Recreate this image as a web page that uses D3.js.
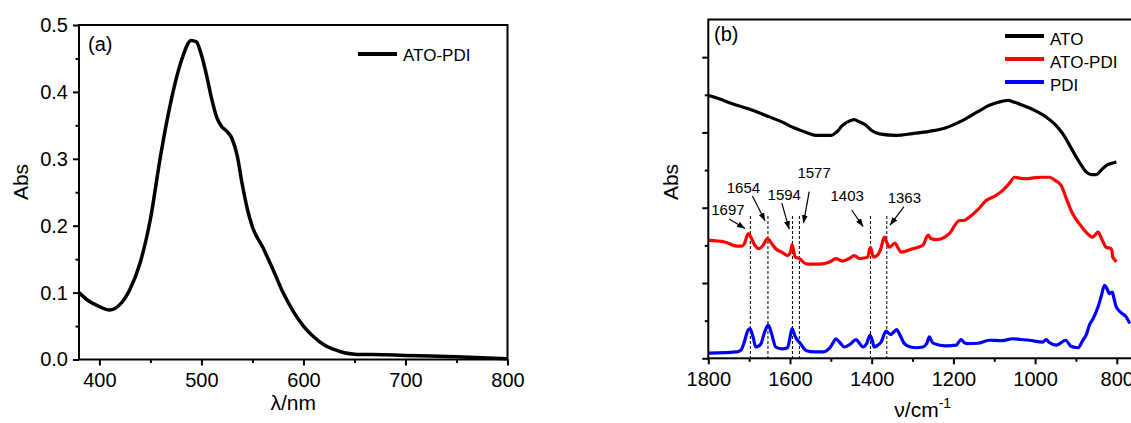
<!DOCTYPE html>
<html lang="en">
<head>
    <meta charset="UTF-8">
    <title>UV-vis and FTIR</title>
    <script type="text/javascript" src="https://d3js.org/d3.v7.min.js"></script>
    <style>
        body { margin: 0; background: #fff; }
        svg { display: block; font-family: Arial, "Liberation Sans", sans-serif; }
    </style>
</head>
<body>
<svg width="1131" height="423"></svg>

<script>
    // (a) UV-vis, ATO-PDI
    var wavelength = [380, 390, 400, 410, 420, 430, 440, 450, 460, 470, 480, 490, 495, 500, 505, 510, 515, 520,
        525, 530, 535, 540, 545, 550, 560, 570, 580, 590, 600, 610, 620, 630, 640, 650, 680, 700, 750, 800];
    var absAtoPdi = [0.100, 0.087, 0.079, 0.074, 0.082, 0.105, 0.145, 0.210, 0.305, 0.385, 0.445, 0.477, 0.475,
        0.455, 0.425, 0.390, 0.362, 0.348, 0.341, 0.330, 0.305, 0.262, 0.225, 0.198, 0.168, 0.135, 0.100, 0.072,
        0.050, 0.034, 0.022, 0.015, 0.010, 0.008, 0.007, 0.006, 0.004, 0.001];

    // (b) FTIR, arbitrary units
    var wnAto = [1800, 1770, 1741, 1700, 1659, 1620, 1594, 1560, 1537, 1500, 1485, 1471, 1455, 1443, 1430, 1414,
        1400, 1381, 1340, 1300, 1259, 1220, 1177, 1140, 1112, 1090, 1067, 1050, 1030, 1000, 973, 950, 932, 915,
        899, 885, 875, 862, 850, 838, 826, 812, 801];
    var ato = [6.98, 6.88, 6.76, 6.62, 6.45, 6.28, 6.14, 6.00, 5.92, 5.92, 6.02, 6.19, 6.30, 6.34, 6.28, 6.19,
        6.05, 5.96, 5.92, 5.97, 6.03, 6.12, 6.32, 6.55, 6.72, 6.80, 6.85, 6.80, 6.72, 6.58, 6.41, 6.20, 5.96, 5.65,
        5.34, 5.10, 4.95, 4.88, 4.88, 5.00, 5.12, 5.18, 5.21];

    var wnAtoPdi = [1800, 1760, 1730, 1718, 1712, 1702, 1695, 1688, 1676, 1665, 1655, 1645, 1635, 1620, 1606,
        1598, 1595, 1591, 1587, 1577, 1561, 1540, 1520, 1505, 1496, 1488, 1480, 1471, 1455, 1443, 1430, 1415,
        1410, 1403, 1396, 1385, 1378, 1369, 1362, 1357, 1343, 1335, 1328, 1300, 1275, 1262, 1255, 1242, 1210,
        1185, 1175, 1161, 1140, 1120, 1100, 1079, 1065, 1050, 1035, 1022, 1000, 985, 965, 950, 936, 922, 908,
        890, 875, 859, 846, 836, 826, 815, 812, 810, 805, 801];
    var atoPdi = [3.13, 3.09, 2.98, 2.98, 3.04, 3.31, 3.20, 3.04, 2.91, 3.02, 3.18, 3.05, 2.91, 2.82, 2.73,
        2.85, 3.02, 2.85, 2.69, 2.65, 2.51, 2.50, 2.51, 2.55, 2.60, 2.65, 2.62, 2.58, 2.65, 2.73, 2.65, 2.67,
        2.69, 2.95, 2.69, 2.75, 2.90, 3.22, 3.05, 2.95, 3.06, 2.92, 2.82, 2.91, 3.00, 3.27, 3.18, 3.15, 3.31,
        3.66, 3.66, 3.75, 3.95, 4.19, 4.30, 4.46, 4.62, 4.81, 4.78, 4.77, 4.80, 4.81, 4.81, 4.72, 4.59, 4.20, 3.84,
        3.55, 3.35, 3.22, 3.35, 3.15, 2.95, 2.92, 2.87, 2.69, 2.62, 2.56];

    var wnPdi = [1800, 1760, 1730, 1720, 1712, 1704, 1698, 1690, 1684, 1676, 1671, 1662, 1653, 1645, 1635, 1620,
        1606, 1600, 1595, 1588, 1583, 1575, 1561, 1540, 1520, 1504, 1495, 1488, 1478, 1467, 1452, 1438, 1430,
        1421, 1412, 1404, 1398, 1394, 1385, 1377, 1365, 1358, 1353, 1346, 1339, 1330, 1320, 1305, 1291, 1275,
        1265, 1259, 1253, 1247, 1220, 1193, 1181, 1174, 1167, 1140, 1112, 1080, 1055, 1035, 1014, 981, 973, 965,
        948, 925, 912, 895, 883, 875, 867, 858, 846, 838, 830, 824, 818, 811, 806, 801, 790, 777, 768];
    var pdi = [0.14, 0.15, 0.17, 0.22, 0.43, 0.72, 0.79, 0.55, 0.30, 0.33, 0.39, 0.70, 0.88, 0.65, 0.30, 0.25,
        0.28, 0.55, 0.79, 0.60, 0.50, 0.40, 0.21, 0.17, 0.17, 0.26, 0.40, 0.52, 0.42, 0.30, 0.38, 0.50, 0.40,
        0.30, 0.40, 0.61, 0.45, 0.30, 0.35, 0.43, 0.72, 0.66, 0.63, 0.70, 0.76, 0.60, 0.39, 0.30, 0.28, 0.30,
        0.40, 0.57, 0.45, 0.39, 0.33, 0.35, 0.50, 0.42, 0.39, 0.40, 0.48, 0.47, 0.52, 0.50, 0.48, 0.43, 0.50, 0.42,
        0.35, 0.48, 0.32, 0.28, 0.48, 0.62, 0.88, 1.05, 1.36, 1.65, 1.94, 1.85, 1.72, 1.76, 1.55, 1.36, 1.22,
        1.10, 0.92];

    // marked peaks
    var peakWn = [1697, 1654, 1594, 1577, 1403, 1363];
    var peakText = ['1697', '1654', '1594', '1577', '1403', '1363'];

    // where each peak label and its arrow sit (wavenumber, height)
    var labelAt = [[1752, 3.81], [1714, 4.40], [1614, 4.21], [1541, 4.78], [1460, 4.19], [1320, 4.12]];
    var arrowFrom = [[1749, 3.70], [1692, 4.31], [1620, 4.12], [1553, 4.43], [1449, 3.94], [1321, 4.03]];
    var arrowTo = [[1710, 3.45], [1661, 3.65], [1602, 3.43], [1567, 3.59], [1421, 3.50], [1355, 3.54]];
    var dashTop = 3.78;

    var svg = d3.select('svg');

    svg.append('defs').append('marker')
        .attr('id', 'head')
        .attr('markerUnits', 'userSpaceOnUse')
        .attr('markerWidth', 8).attr('markerHeight', 6)
        .attr('refX', 8).attr('refY', 3)
        .attr('orient', 'auto')
        .append('path')
        .attr('d', 'M0,0L8,3L0,6Z')
        .attr('fill', '#000');

    function styleAxis(g, fontSize) {
        g.select('.domain').remove();
        g.selectAll('line').attr('stroke', '#000').attr('stroke-width', 2);
        g.selectAll('text').attr('fill', '#000').attr('font-size', fontSize)
            .attr('font-family', 'Arial, "Liberation Sans", sans-serif');
    }

    // ---------- (a) ----------
    var xA = d3.scaleLinear().domain([380, 800]).range([79, 507.5]);
    var yA = d3.scaleLinear().domain([0, 0.5]).range([359.5, 25]);

    var ga = svg.append('g');

    ga.append('g').attr('transform', 'translate(0,' + yA(0) + ')')
        .call(d3.axisBottom(xA).tickValues([400, 500, 600, 700, 800]).tickSize(6).tickPadding(7)
            .tickFormat(d3.format('d')))
        .call(styleAxis, 20);
    ga.append('g').attr('transform', 'translate(0,' + yA(0) + ')')
        .call(d3.axisBottom(xA).tickValues([450, 550, 650, 750]).tickSize(3.5).tickFormat(''))
        .call(styleAxis, 20);
    ga.append('g').attr('transform', 'translate(' + xA(380) + ',0)')
        .call(d3.axisLeft(yA).tickValues([0, 0.1, 0.2, 0.3, 0.4, 0.5]).tickSize(6).tickPadding(5)
            .tickFormat(d3.format('.1f')))
        .call(styleAxis, 20);
    ga.append('g').attr('transform', 'translate(' + xA(380) + ',0)')
        .call(d3.axisLeft(yA).tickValues([0.05, 0.15, 0.25, 0.35, 0.45]).tickSize(3.5).tickFormat(''))
        .call(styleAxis, 20);

    var lineA = d3.line()
        .x(function (d, i) { return xA(wavelength[i]); })
        .y(function (d) { return yA(d); })
        .curve(d3.curveMonotoneX);

    ga.append('path')
        .attr('d', lineA(absAtoPdi))
        .attr('fill', 'none')
        .attr('stroke', '#000')
        .attr('stroke-width', 3.5)
        .attr('stroke-linejoin', 'round');

    ga.append('rect')
        .attr('x', xA(380)).attr('y', yA(0.5))
        .attr('width', xA(800) - xA(380)).attr('height', yA(0) - yA(0.5))
        .attr('fill', 'none').attr('stroke', '#000').attr('stroke-width', 2);

    ga.append('text').attr('x', 88).attr('y', 51).attr('font-size', 20).text('(a)');

    // legend
    ga.append('line').attr('x1', 358).attr('x2', 397).attr('y1', 54).attr('y2', 54)
        .attr('stroke', '#000').attr('stroke-width', 4);
    ga.append('text').attr('x', 403).attr('y', 61).attr('font-size', 17).text('ATO-PDI');

    ga.append('text')
        .attr('transform', 'translate(28,182) rotate(-90)')
        .attr('text-anchor', 'middle').attr('font-size', 21).text('Abs');
    ga.append('text')
        .attr('x', (xA(380) + xA(800)) / 2).attr('y', 410)
        .attr('text-anchor', 'middle').attr('font-size', 21).text('λ/nm');

    // ---------- (b) ----------
    var xB = d3.scaleLinear().domain([1800, 750]).range([708.3, 1137.2]);
    var yB = d3.scaleLinear().domain([0, 9]).range([358.3, 19.5]);

    var gb = svg.append('g');

    gb.append('g').attr('transform', 'translate(0,' + yB(0) + ')')
        .call(d3.axisBottom(xB).tickValues([1800, 1600, 1400, 1200, 1000, 800]).tickSize(6).tickPadding(8)
            .tickFormat(d3.format('d')))
        .call(styleAxis, 20);
    gb.append('g').attr('transform', 'translate(0,' + yB(0) + ')')
        .call(d3.axisBottom(xB).tickValues([1700, 1500, 1300, 1100, 900]).tickSize(3.5).tickFormat(''))
        .call(styleAxis, 20);
    gb.append('g').attr('transform', 'translate(' + xB(1800) + ',0)')
        .call(d3.axisLeft(yB).tickValues([0, 2, 4, 6, 8]).tickSize(6).tickFormat(''))
        .call(styleAxis, 20);
    gb.append('g').attr('transform', 'translate(' + xB(1800) + ',0)')
        .call(d3.axisLeft(yB).tickValues([1, 3, 5, 7]).tickSize(3.5).tickFormat(''))
        .call(styleAxis, 20);

    // dashed guides, arrows and labels
    gb.selectAll('.guide')
        .data(peakWn)
        .enter()
        .append('line')
        .attr('class', 'guide')
        .attr('x1', function (d) { return xB(d); })
        .attr('x2', function (d) { return xB(d); })
        .attr('y1', yB(dashTop))
        .attr('y2', yB(0))
        .attr('stroke', '#000')
        .attr('stroke-width', 1)
        .attr('stroke-dasharray', '3,2');

    gb.selectAll('.arrow')
        .data(peakWn)
        .enter()
        .append('line')
        .attr('class', 'arrow')
        .attr('x1', function (d, i) { return xB(arrowFrom[i][0]); })
        .attr('y1', function (d, i) { return yB(arrowFrom[i][1]); })
        .attr('x2', function (d, i) { return xB(arrowTo[i][0]); })
        .attr('y2', function (d, i) { return yB(arrowTo[i][1]); })
        .attr('stroke', '#000')
        .attr('stroke-width', 1.2)
        .attr('marker-end', 'url(#head)');

    gb.selectAll('.peak')
        .data(peakText)
        .enter()
        .append('text')
        .attr('class', 'peak')
        .attr('x', function (d, i) { return xB(labelAt[i][0]); })
        .attr('y', function (d, i) { return yB(labelAt[i][1]); })
        .attr('text-anchor', 'middle')
        .attr('font-size', 15)
        .text(function (d) { return d; });

    var lineB = function (xs) {
        return d3.line()
            .x(function (d, i) { return xB(xs[i]); })
            .y(function (d) { return yB(d); })
            .curve(d3.curveMonotoneX);
    };

    var series = [
        {name: 'ATO', xs: wnAto, ys: ato, color: '#000000'},
        {name: 'ATO-PDI', xs: wnAtoPdi, ys: atoPdi, color: '#ff0000'},
        {name: 'PDI', xs: wnPdi, ys: pdi, color: '#0000ff'}
    ];

    gb.selectAll('.curve')
        .data(series)
        .enter()
        .append('path')
        .attr('class', 'curve')
        .attr('d', function (d) { return lineB(d.xs)(d.ys); })
        .attr('fill', 'none')
        .attr('stroke', function (d) { return d.color; })
        .attr('stroke-width', 3.2)
        .attr('stroke-linejoin', 'round');

    gb.append('rect')
        .attr('x', xB(1800)).attr('y', yB(9))
        .attr('width', xB(750) - xB(1800)).attr('height', yB(0) - yB(9))
        .attr('fill', 'none').attr('stroke', '#000').attr('stroke-width', 2);

    gb.append('text').attr('x', 714).attr('y', 41).attr('font-size', 20).text('(b)');

    // legend
    var leg = gb.selectAll('.leg')
        .data(series)
        .enter()
        .append('g')
        .attr('class', 'leg')
        .attr('transform', function (d, i) { return 'translate(1005,' + (36 + i * 23) + ')'; });
    leg.append('line').attr('x1', 0).attr('x2', 39)
        .attr('stroke', function (d) { return d.color; }).attr('stroke-width', 4);
    leg.append('text').attr('x', 45).attr('y', 9).attr('font-size', 17)
        .text(function (d) { return d.name; });

    gb.append('text')
        .attr('transform', 'translate(678,182) rotate(-90)')
        .attr('text-anchor', 'middle').attr('font-size', 21).text('Abs');
    var xt = gb.append('text')
        .attr('x', (xB(1800) + xB(750)) / 2).attr('y', 417)
        .attr('text-anchor', 'middle').attr('font-size', 21);
    xt.append('tspan').text('ν/cm');
    xt.append('tspan').attr('dy', -9).attr('font-size', 14).text('-1');
</script>
</body>
</html>
